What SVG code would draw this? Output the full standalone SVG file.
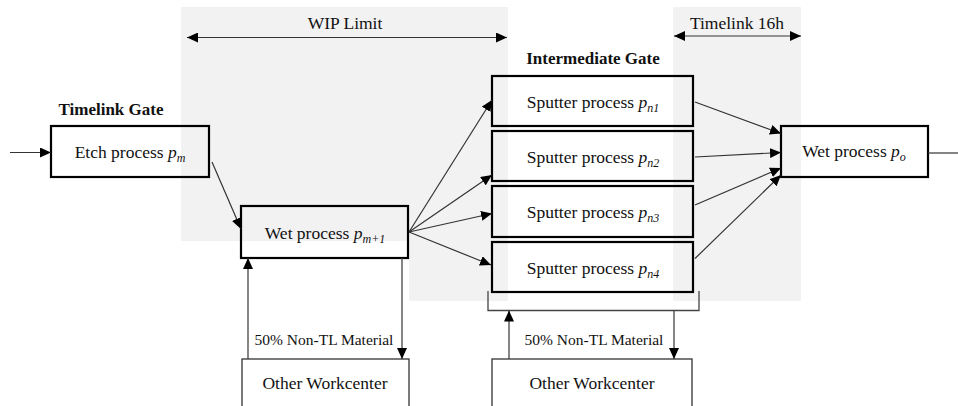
<svg xmlns="http://www.w3.org/2000/svg" width="958" height="406" viewBox="0 0 958 406">
  <style>
    .zone { fill: #f2f2f2; stroke: none; }
    .box { fill: none; stroke: #000; stroke-width: 2.2; }
    .wc { fill: none; stroke: #333; stroke-width: 1.3; }
    text { font-family: 'Liberation Serif', 'DejaVu Serif', serif; font-size: 17.5px; fill: #111; text-anchor: middle; }
    .small { font-size: 15.5px; }
    .gate { font-weight: bold; font-size: 17px; }
    .it { font-style: italic; }
    .sub { font-style: italic; font-size: 12px; }
    .con { fill: none; stroke: #333; stroke-width: 1.2; }
    .feed { fill: none; stroke: #444; stroke-width: 1.3; }
  </style>
  <defs>
    <marker id="ah" markerUnits="userSpaceOnUse" markerWidth="12" markerHeight="10" viewBox="0 0 12 10" refX="11" refY="5" orient="auto-start-reverse">
      <path d="M0,0 L11,5 L0,10 Z" fill="#000"/>
    </marker>
  </defs>

  <!-- shaded spans -->
  <g id="zones">
    <rect class="zone" x="181" y="7" width="327" height="234"/>
    <rect class="zone" x="409" y="7" width="99" height="294"/>
    <rect class="zone" x="673" y="7" width="128" height="294"/>
  </g>

  <g font-family="Liberation Serif, DejaVu Serif, serif">
  <!-- span annotations -->
  <g id="wip-limit">
    <text x="345" y="29">WIP Limit</text>
    <line class="con" x1="187" y1="37.5" x2="507" y2="37.5" marker-start="url(#ah)" marker-end="url(#ah)"/>
  </g>
  <g id="timelink-16h">
    <text x="737" y="29">Timelink 16h</text>
    <line class="con" x1="674" y1="36" x2="801" y2="36" marker-start="url(#ah)" marker-end="url(#ah)"/>
  </g>
  <g id="gate-labels">
    <text class="gate" x="111" y="115">Timelink Gate</text>
    <text class="gate" x="593" y="64">Intermediate Gate</text>
  </g>

  <!-- process steps -->
  <g id="etch">
    <rect class="box" x="51" y="126" width="158" height="51"/>
    <text x="130" y="158">Etch process <tspan class="it">p</tspan><tspan class="sub" dy="4">m</tspan></text>
  </g>
  <g id="wet-m1">
    <rect class="box" x="241" y="206" width="167" height="52"/>
    <text x="325" y="239">Wet process <tspan class="it">p</tspan><tspan class="sub" dy="4">m+1</tspan></text>
  </g>
  <g id="sputter-n1">
    <rect class="box" x="492" y="76" width="201" height="50"/>
    <text x="593" y="108">Sputter process <tspan class="it">p</tspan><tspan class="sub" dy="4">n1</tspan></text>
  </g>
  <g id="sputter-n2">
    <rect class="box" x="492" y="131" width="201" height="50"/>
    <text x="593" y="163">Sputter process <tspan class="it">p</tspan><tspan class="sub" dy="4">n2</tspan></text>
  </g>
  <g id="sputter-n3">
    <rect class="box" x="492" y="186" width="201" height="51"/>
    <text x="593" y="218">Sputter process <tspan class="it">p</tspan><tspan class="sub" dy="4">n3</tspan></text>
  </g>
  <g id="sputter-n4">
    <rect class="box" x="492" y="242" width="201" height="50"/>
    <text x="593" y="274">Sputter process <tspan class="it">p</tspan><tspan class="sub" dy="4">n4</tspan></text>
  </g>
  <g id="wet-o">
    <rect class="box" x="781" y="126" width="147" height="51"/>
    <text x="854" y="157">Wet process <tspan class="it">p</tspan><tspan class="sub" dy="4">o</tspan></text>
  </g>
  <g id="workcenter-left">
    <rect class="wc" x="242" y="359" width="167" height="60"/>
    <text x="325" y="389">Other Workcenter</text>
  </g>
  <g id="workcenter-right">
    <rect class="wc" x="492" y="359" width="200" height="60"/>
    <text x="592" y="389">Other Workcenter</text>
  </g>

  <!-- flows -->
  <g id="connectors">
    <line class="con" x1="10" y1="152.5" x2="51" y2="152.5" marker-end="url(#ah)"/>
    <line class="con" x1="212" y1="162" x2="241" y2="229" marker-end="url(#ah)"/>
    <line class="con" x1="409" y1="232" x2="492" y2="100" marker-end="url(#ah)"/>
    <line class="con" x1="409" y1="232" x2="492" y2="175" marker-end="url(#ah)"/>
    <line class="con" x1="409" y1="232" x2="492" y2="213.5" marker-end="url(#ah)"/>
    <line class="con" x1="409" y1="232" x2="491" y2="265" marker-end="url(#ah)"/>
    <line class="con" x1="695" y1="102" x2="781" y2="133.5" marker-end="url(#ah)"/>
    <line class="con" x1="695" y1="157" x2="781" y2="152.5" marker-end="url(#ah)"/>
    <line class="con" x1="695" y1="205" x2="781" y2="168" marker-end="url(#ah)"/>
    <line class="con" x1="695" y1="258.5" x2="781" y2="175" marker-end="url(#ah)"/>
    <line class="con" x1="928" y1="153" x2="958" y2="153"/>

    <!-- exchange with other workcenters -->
    <line class="feed" x1="248" y1="359" x2="248" y2="258" marker-end="url(#ah)"/>
    <line class="feed" x1="402" y1="258" x2="402" y2="359" marker-end="url(#ah)"/>
    <path class="feed" d="M488,291 V310.5 H699 V291"/>
    <line class="feed" x1="509" y1="359" x2="509" y2="310.5" marker-end="url(#ah)"/>
    <line class="feed" x1="674" y1="310.5" x2="674" y2="359" marker-end="url(#ah)"/>
    <text class="small" x="324" y="345">50% Non-TL Material</text>
    <text class="small" x="594" y="345">50% Non-TL Material</text>
  </g>
  </g>
</svg>
